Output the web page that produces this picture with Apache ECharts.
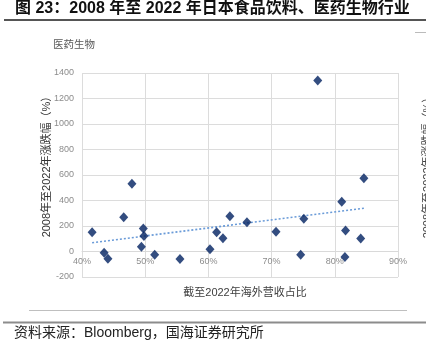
<!DOCTYPE html>
<html>
<head>
<meta charset="utf-8">
<script src="https://cdn.jsdelivr.net/npm/echarts@6/dist/echarts.min.js"></script>
<style>
html,body{margin:0;padding:0;background:#fff;}
#c{width:426px;height:347px;}
</style>
</head>
<body>
<div id="c"></div>
<script>
// Overseas revenue share by 2022 (%)
var overseasShare = [41.6, 47.9, 46.6, 49.7, 49.8, 49.4, 43.5, 44.1, 51.5, 55.5, 60.25, 61.3, 62.3, 63.4, 66.1, 70.7, 74.6, 75.1, 84.6, 81.1, 81.7, 84.1, 81.6, 77.3];
// 2008-2022 price change (%)
var priceChange = [151, 531, 269, 180, 122, 38, -9, -56, -25, -59, 17, 151, 104, 277, 230, 154, -25, 256, 574, 390, 164, 101, -43, 1342];
var xTicks = {min: 40, max: 90, interval: 10};
var yTicks = {min: -200, max: 1400, interval: 200};

var points = overseasShare.map(function(x, i){ return [x, priceChange[i]]; });
// linear trendline (least squares) from data
var n = points.length, sx = 0, sy = 0, sxx = 0, sxy = 0;
points.forEach(function(p){ sx += p[0]; sy += p[1]; sxx += p[0]*p[0]; sxy += p[0]*p[1]; });
var slope = (n*sxy - sx*sy) / (n*sxx - sx*sx);
var icpt = (sy - slope*sx) / n;
var xMin = Math.min.apply(null, overseasShare), xMax = Math.max.apply(null, overseasShare);
var trend = [[xMin, icpt + slope*xMin], [xMax, icpt + slope*xMax]];

var gridTop = 73, gridBottom = 70, H = 347;
var gridH = H - gridTop - gridBottom;
var zeroOffset = gridH * (0 - yTicks.min) / (yTicks.max - yTicks.min);

var chart = echarts.init(document.getElementById('c'), null, {renderer: 'canvas'});
var sansCJK = '"Liberation Sans", "Noto Sans CJK SC", sans-serif';
chart.setOption({
  animation: false,
  backgroundColor: '#fff',
  grid: {left: 82, right: 28, top: gridTop, bottom: gridBottom, containLabel: false},
  xAxis: {
    type: 'value', min: xTicks.min, max: xTicks.max, interval: xTicks.interval,
    offset: -zeroOffset,
    axisLine: {show: true, onZero: false, lineStyle: {color: '#d9d9d9', width: 1}},
    axisTick: {show: false},
    axisLabel: {formatter: function(v){ return v + '%'; }, color: '#8c8c8c', fontSize: 9, margin: 6, fontFamily: sansCJK},
    splitLine: {show: true, lineStyle: {color: '#dcdcdc', width: 1}}
  },
  yAxis: {
    type: 'value', min: yTicks.min, max: yTicks.max, interval: yTicks.interval,
    axisLine: {show: false}, axisTick: {show: false},
    axisLabel: {formatter: function(v){ return String(v); }, color: '#8c8c8c', fontSize: 9, margin: 8, fontFamily: sansCJK},
    splitLine: {show: true, lineStyle: {color: '#dcdcdc', width: 1}}
  },
  series: [
    {
      type: 'line', data: trend, symbol: 'none', silent: true, z: 2,
      lineStyle: {color: '#6a9bd8', width: 1.6, type: [2, 2]}
    },
    {
      type: 'scatter', data: points, symbol: 'diamond', symbolSize: [9, 10], z: 3,
      itemStyle: {color: '#002060'}
    }
  ],
  graphic: [
    {type: 'text', left: 15, top: 1, style: {text: '图 23：2008 年至 2022 年日本食品饮料、医药生物行业', font: 'bold 16px "Liberation Sans", "Noto Sans CJK SC"', fill: '#111'}},
    {type: 'line', shape: {x1: 4, y1: 20, x2: 426, y2: 20}, style: {stroke: '#555', lineWidth: 2}},
    {type: 'line', shape: {x1: 415, y1: 32.5, x2: 426, y2: 32.5}, style: {stroke: '#bbb', lineWidth: 1}},
    {type: 'text', left: 53, top: 39, style: {text: '医药生物', font: '10.5px "Noto Sans CJK SC"', fill: '#595959'}},
    {type: 'text', x: 47, y: 164, rotation: Math.PI/2, style: {text: '2008年至2022年涨跌幅（%）', font: '11px "Liberation Sans", "Noto Sans CJK SC"', fill: '#333', textAlign: 'center', textVerticalAlign: 'middle'}},
    {type: 'text', x: 428, y: 165, rotation: Math.PI/2, style: {text: '2008年至2022年涨跌幅（%）', font: '11px "Liberation Sans", "Noto Sans CJK SC"', fill: '#444', textAlign: 'center', textVerticalAlign: 'middle'}},
    {type: 'text', x: 245, y: 293, style: {text: '截至2022年海外营收占比', font: '11px "Liberation Sans", "Noto Sans CJK SC"', fill: '#404040', textAlign: 'center', textVerticalAlign: 'middle'}},
    {type: 'line', shape: {x1: 29, y1: 310.5, x2: 407, y2: 310.5}, style: {stroke: '#bfbfbf', lineWidth: 1}},
    {type: 'line', shape: {x1: 3, y1: 322.5, x2: 426, y2: 322.5}, style: {stroke: '#8c8c8c', lineWidth: 2}},
    {type: 'text', left: 14, top: 326, style: {text: '资料来源：Bloomberg，国海证券研究所', font: '14px "Liberation Sans", "Noto Sans CJK SC"', fill: '#222'}}
  ]
});
</script>
</body>
</html>
